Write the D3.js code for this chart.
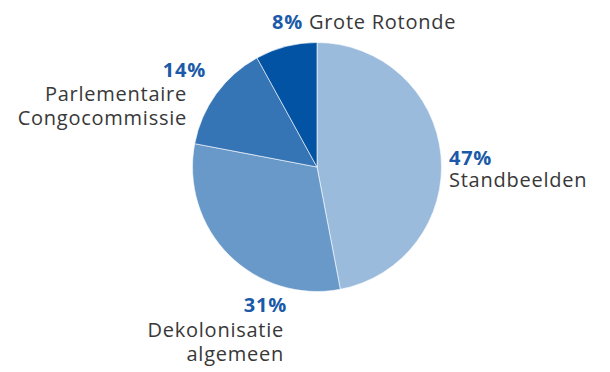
<!DOCTYPE html>
<html>
<head>
<meta charset="utf-8">
<script src="https://cdn.jsdelivr.net/npm/d3@7"></script>
<style>
  html, body { margin: 0; padding: 0; background: #fff; }
  svg { display: block; }
  text { font-family: "Open Sans", "Noto Sans", sans-serif; }
</style>
</head>
<body>
<svg id="chart" width="610" height="372"></svg>
<script>
// Topics and their shares (%)
const categories = ["Standbeelden", "Dekolonisatie algemeen", "Parlementaire Congocommissie", "Grote Rotonde"];
const values = [47, 31, 14, 8];
const colors = ["#9bbbdd", "#6899c9", "#3574b5", "#0353a4"];
// Label lines per slice
const labelLines = [["Standbeelden"], ["Dekolonisatie", "algemeen"], ["Parlementaire", "Congocommissie"], ["Grote Rotonde"]];

const cx = 317, cy = 167, radius = 124.5;

const svg = d3.select("#chart");
const g = svg.append("g").attr("transform", `translate(${cx},${cy})`);

const pie = d3.pie().sort(null).value(d => d.value);
const arc = d3.arc().innerRadius(0).outerRadius(radius);
const data = categories.map((c, i) => ({ name: c, value: values[i], color: colors[i], lines: labelLines[i] }));
const arcs = pie(data);

g.selectAll("path.slice")
  .data(arcs)
  .enter().append("path")
  .attr("class", "slice")
  .attr("d", arc)
  .attr("fill", d => d.data.color)
  .attr("stroke", "#ffffff")
  .attr("stroke-width", 0.6);

// Label anchors (percentage baseline and text block) in page coordinates
const labelPos = [
  { px: 449, py: 165, tx: 449, ty: 187, anchor: "start", layout: "stack" },
  { px: 287, py: 312, tx: 284, ty: 337, anchor: "end", layout: "stack" },
  { px: 206, py: 77, tx: 187, ty: 101, anchor: "end", layout: "stack" },
  { px: 272, py: 29, anchor: "start", layout: "inline" }
];

const pctColor = "#1a5aa8";
const txtColor = "#383838";
const fs = 20, lh = 24, ls = 0.75;

arcs.forEach((a, i) => {
  const p = labelPos[i];
  if (p.layout === "inline") {
    const t = svg.append("text").attr("x", p.px).attr("y", p.py)
      .attr("text-anchor", p.anchor).attr("font-size", fs).attr("letter-spacing", ls);
    t.append("tspan").attr("font-weight", 700).attr("fill", pctColor).text(a.data.value + "%");
    t.append("tspan").attr("fill", txtColor).text("\u00a0" + a.data.lines[0]);
  } else {
    svg.append("text")
      .attr("x", p.px).attr("y", p.py)
      .attr("text-anchor", p.anchor)
      .attr("font-size", fs)
      .attr("letter-spacing", ls)
      .attr("font-weight", 700)
      .attr("fill", pctColor)
      .text(a.data.value + "%");
    a.data.lines.forEach((ln, j) => {
      svg.append("text")
        .attr("x", p.tx).attr("y", p.ty + lh * j)
        .attr("text-anchor", p.anchor)
        .attr("font-size", fs)
        .attr("letter-spacing", ls)
        .attr("fill", txtColor)
        .text(ln);
    });
  }
});
</script>
</body>
</html>
